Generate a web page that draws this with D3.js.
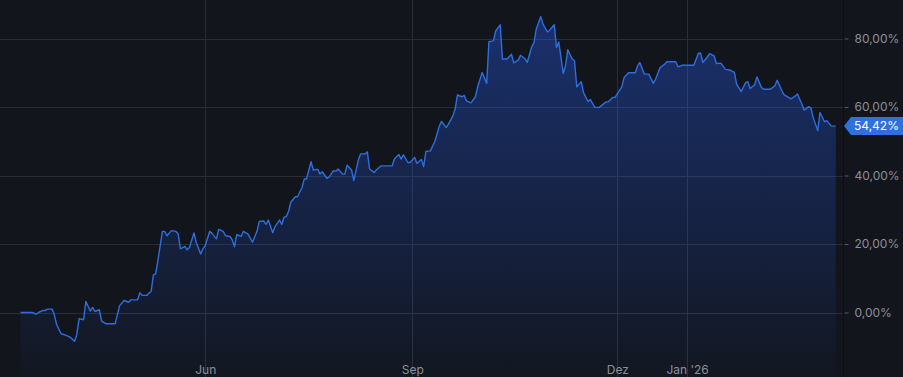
<!DOCTYPE html>
<html>
<head>
<meta charset="utf-8">
<script src="https://cdn.jsdelivr.net/npm/d3@7"></script>
<style>
  html, body { margin: 0; padding: 0; background: #12151c; }
  svg { display: block; font-family: Inter, "Noto Sans", sans-serif; }
</style>
</head>
<body>
<svg width="903" height="377"></svg>
<script>
'use strict';

// days since 2025-03-11 and performance in %
var days = [0,5,7,8,10,11,12,14,15,16,18,20,22,24,25,26,28,29,31,32,33,35,36,38,42,44,46,48,49,52,
	53,54,56,58,59,60,61,63,64,65,67,69,70,71,73,74,75,77,78,80,81,82,84,85,87,88,90,91,93,94,
	95,96,98,99,101,103,105,106,108,109,110,112,113,115,116,117,118,119,120,122,123,125,126,127,129,130,132,133,134,136,
	137,139,140,141,143,144,145,147,148,150,151,153,154,155,157,158,160,165,166,168,169,170,172,173,175,176,178,179,180,182,
	184,186,187,189,190,192,193,194,196,197,198,200,202,203,205,207,208,210,211,213,214,216,218,219,221,222,224,225,227,228,
	229,231,232,234,235,237,238,239,241,242,243,245,246,247,249,250,252,253,255,257,260,261,263,264,267,268,270,273,274,275,
	277,279,281,282,284,286,287,291,292,294,299,301,302,303,305,306,308,309,311,313,315,317,318,320,322,323,324,326,327,329,
	330,333,335,336,338,339,341,342,344,345,347,348,350,351,352,354,355,357,358,360,362];

var values = [0,0,-0.5,0,0.6,0.6,1.0,1.0,-0.6,-3.5,-6.2,-6.6,-7.2,-8.4,-6.4,-1.8,-2.1,3.2,0.4,1.5,0.3,0.8,-2.5,-3.3,-3.3,2.0,3.5,3.0,3.7,3.7,
	5.8,5.0,5.0,6.2,11.0,11.3,15.2,23.7,23.7,22.4,23.9,23.7,22.9,18.6,19.3,18.3,19.0,23.2,20.5,17.1,18.6,19.5,23.7,23.1,21.5,24.3,23.7,22.4,22.2,21.2,
	19.2,22.7,22.2,23.7,22.9,20.5,23.7,26.6,26.7,25.7,27.0,23.3,25.1,27.0,25.7,27.8,28.0,29.5,32.2,33.8,33.8,36.5,39.0,39.0,44.0,41.6,41.8,40.4,41.1,39.2,
	39.5,41.4,41.2,41.9,40.4,40.4,43.0,41.6,38.5,44.5,46.3,46.3,46.9,41.9,40.9,41.6,42.8,42.8,44.8,46.1,44.8,46.0,43.8,43.8,45.3,43.5,44.7,42.6,47.0,47.2,
	50.0,54.5,55.8,54.0,55.0,57.4,59.4,63.5,63.0,63.4,61.8,61.2,63.0,65.9,70.1,66.9,79.1,79.3,82.2,84.0,74.0,74.0,75.4,72.9,73.7,75.1,74.1,73.0,77.6,78.8,
	82.7,86.4,84.2,81.9,82.5,84.0,77.4,79.0,69.8,72.0,76.7,74.0,73.5,65.9,67.4,64.2,61.6,62.2,59.9,59.9,61.5,61.5,62.8,62.8,65.9,68.6,70.0,70.0,72.0,73.0,
	69.6,69.6,66.9,68.1,71.5,72.5,73.2,73.2,71.7,72.2,72.2,75.7,75.7,73.0,74.6,75.6,74.9,72.7,72.8,71.0,70.8,70.1,66.7,64.5,67.1,67.4,65.4,66.5,68.8,65.7,
	65.2,65.2,66.2,67.8,64.9,63.6,62.8,62.4,63.2,63.8,60.8,59.1,60.1,59.7,56.9,53.1,58.4,55.7,56.0,54.5,54.42];

var yTicks = [0, 20, 40, 60, 80];
var xTickDates = [new Date(2025,5,1), new Date(2025,8,1), new Date(2025,11,1), new Date(2026,0,1)];
var xTickLabels = ['Jun', 'Sep', 'Dez', 'Jan \'26'];

var start = new Date(2025, 2, 11);
var data = days.map(function(d, i){
	return { date: d3.timeDay.offset(start, d), value: values[i] };
});

var de = d3.formatLocale({decimal: ',', thousands: '.', grouping: [3], currency: ['', '€']});
var fmt = function(v){ return de.format('.2f')(v) + '%'; };

var svg = d3.select('svg');
var width = +svg.attr('width');
var height = +svg.attr('height');
var plotRight = 843;

var x = d3.scaleTime().domain([new Date(2025,5,1), new Date(2026,0,1)]).range([205.2, 687.1]);
var y = d3.scaleLinear().domain([0, 80]).range([312.5, 38.5]);

var defs = svg.append('defs');
var grad = defs.append('linearGradient')
	.attr('id', 'fill')
	.attr('gradientUnits', 'userSpaceOnUse')
	.attr('x1', 0).attr('x2', 0)
	.attr('y1', y(d3.max(values))).attr('y2', height);
grad.append('stop').attr('offset', 0).attr('stop-color', '#2962ff').attr('stop-opacity', 0.36);
grad.append('stop').attr('offset', 1).attr('stop-color', '#2962ff').attr('stop-opacity', 0.02);

// grid
svg.append('g')
	.selectAll('line')
	.data(yTicks).enter()
	.append('line')
	.attr('x1', 0).attr('x2', plotRight)
	.attr('y1', function(d){ return Math.round(y(d)) + 0.5; })
	.attr('y2', function(d){ return Math.round(y(d)) + 0.5; })
	.attr('stroke', '#2a2e38');

svg.append('g')
	.selectAll('line')
	.data(xTickDates).enter()
	.append('line')
	.attr('x1', function(d){ return Math.round(x(d)) + 0.5; })
	.attr('x2', function(d){ return Math.round(x(d)) + 0.5; })
	.attr('y1', 0).attr('y2', height)
	.attr('stroke', '#2a2e38');

// area + line
var area = d3.area()
	.x(function(d){ return x(d.date); })
	.y0(height)
	.y1(function(d){ return y(d.value); });

var line = d3.line()
	.x(function(d){ return x(d.date); })
	.y(function(d){ return y(d.value); });

svg.append('path')
	.datum(data)
	.attr('d', area)
	.attr('fill', 'url(#fill)');

svg.append('path')
	.datum(data)
	.attr('d', line)
	.attr('fill', 'none')
	.attr('stroke', '#2d6ee0')
	.attr('stroke-width', 1.4)
	.attr('stroke-linejoin', 'round');

// right axis
svg.append('line')
	.attr('x1', plotRight + 0.5).attr('x2', plotRight + 0.5)
	.attr('y1', 0).attr('y2', height)
	.attr('stroke', '#0b0d12');

var yAxis = svg.append('g')
	.attr('transform', 'translate(' + (plotRight + 1.5) + ',0)')
	.call(d3.axisRight(y).tickValues(yTicks).tickSize(4).tickPadding(6).tickFormat(fmt));
yAxis.select('.domain').remove();
yAxis.selectAll('line').attr('stroke', '#555a66');
yAxis.selectAll('text').attr('fill', '#8c9099').style('font-size', '12px').style('font-family', 'Inter, sans-serif');

var xAxis = svg.append('g')
	.attr('transform', 'translate(0,365)')
	.call(d3.axisBottom(x).tickValues(xTickDates).tickSize(0).tickPadding(0)
		.tickFormat(function(d, i){ return xTickLabels[i]; }));
xAxis.select('.domain').remove();
xAxis.selectAll('text').attr('fill', '#8c9099').style('font-size', '12px').style('font-family', 'Inter, sans-serif');

// last value label
var last = data[data.length - 1];
var ly = y(last.value);
svg.append('path')
	.attr('d', 'M' + (plotRight + 1) + ',' + ly +
		'L' + (plotRight + 8) + ',' + (ly - 9) +
		'L' + width + ',' + (ly - 9) +
		'L' + width + ',' + (ly + 9) +
		'L' + (plotRight + 8) + ',' + (ly + 9) + 'Z')
	.attr('fill', '#2f6fde');

svg.append('text')
	.attr('x', 854)
	.attr('y', ly)
	.attr('dy', '0.35em')
	.attr('fill', '#ffffff')
	.style('font-size', '12px')
	.text(fmt(last.value));
</script>
</body>
</html>
